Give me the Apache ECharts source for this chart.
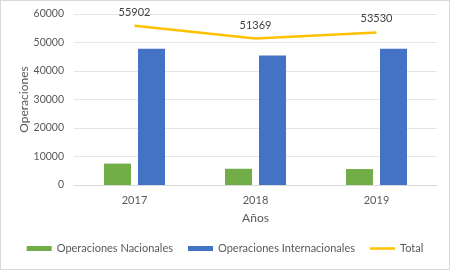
<!DOCTYPE html>
<html>
<head>
<meta charset="utf-8">
<script src="https://cdn.jsdelivr.net/npm/echarts@6/dist/echarts.min.js"></script>
<style>
  html, body { margin: 0; padding: 0; background: #fff; }
  #chart { width: 448px; height: 268px; border: 1px solid #d9d9d9; }
</style>
</head>
<body>
<div id="chart"></div>
<script>
const years = ["2017", "2018", "2019"];
const nacionales = [7500, 5700, 5600];
const internacionales = [47800, 45400, 47800];
const total = [55902, 51369, 53530];

const myChart = echarts.init(document.getElementById("chart"));
const font = "Lato, 'Noto Sans', sans-serif";

const option = {
  textStyle: { fontFamily: font },
  animation: false,
  grid: { left: 73, right: 12, top: 13, bottom: 84 },
  legend: {
    bottom: 10,
    left: "center",
    itemWidth: 25,
    itemHeight: 5,
    itemGap: 15,
    textStyle: { color: "#595959", fontSize: 11, fontFamily: font },
    data: [
      { name: "Operaciones Nacionales", icon: "rect" },
      { name: "Operaciones Internacionales", icon: "rect" },
      { name: "Total", icon: "path://M0,0 L50,0 L50,5 L0,5 Z", itemStyle: { color: "#FFC000" } },
    ],
  },
  xAxis: {
    type: "category",
    data: years,
    name: "Años",
    nameLocation: "middle",
    nameGap: 27,
    nameTextStyle: { color: "#595959", fontSize: 12 },
    axisTick: { show: false },
    axisLine: { lineStyle: { color: "#d9d9d9" } },
    axisLabel: { color: "#595959", fontSize: 11, margin: 10 },
  },
  yAxis: {
    type: "value",
    min: 0,
    max: 60000,
    interval: 10000,
    name: "Operaciones",
    nameLocation: "middle",
    nameRotate: 90,
    nameGap: 44,
    nameMoveOverlap: false,
    nameTextStyle: { color: "#595959", fontSize: 12 },
    axisLabel: { color: "#595959", fontSize: 10.5, margin: 10, formatter: (v) => String(v) },
    splitLine: { lineStyle: { color: "#e5e5e5" } },
  },
  series: [
    {
      name: "Operaciones Nacionales",
      type: "bar",
      barWidth: 27,
      barGap: "26%",
      itemStyle: { color: "#70AD47" },
      data: nacionales,
    },
    {
      name: "Operaciones Internacionales",
      type: "bar",
      barWidth: 27,
      itemStyle: { color: "#4472C4" },
      data: internacionales,
    },
    {
      name: "Total",
      type: "line",
      symbol: "circle",
      symbolSize: 0,
      lineStyle: { color: "#FFC000", width: 2.5 },
      itemStyle: { color: "#FFC000" },
      label: {
        show: true,
        position: "top",
        distance: 8,
        color: "#404040",
        fontSize: 11,
        formatter: (p) => String(p.value),
      },
      data: total,
    },
  ],
};

option && myChart.setOption(option);
</script>
</body>
</html>
